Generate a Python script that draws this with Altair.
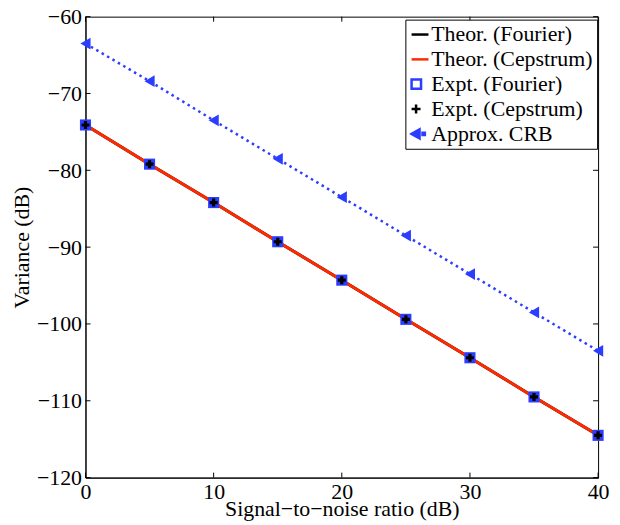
import altair as alt
import pandas as pd

# ---- data ----
snr = [0, 5, 10, 15, 20, 25, 30, 35, 40]
theor_fourier = [-74.1, -79.2, -84.2, -89.3, -94.3, -99.4, -104.4, -109.5, -114.5]
theor_cepstrum = [-74.1, -79.2, -84.2, -89.3, -94.3, -99.4, -104.4, -109.5, -114.5]
expt_fourier = [-74.1, -79.2, -84.2, -89.3, -94.3, -99.4, -104.4, -109.5, -114.5]
expt_cepstrum = [-74.1, -79.2, -84.2, -89.3, -94.3, -99.4, -104.4, -109.5, -114.5]
approx_crb = [-63.5, -68.4, -73.5, -78.5, -83.5, -88.5, -93.5, -98.5, -103.5]
series_names = ["Theor. (Fourier)", "Theor. (Cepstrum)", "Expt. (Fourier)",
                "Expt. (Cepstrum)", "Approx. CRB"]
x_ticks = [0, 10, 20, 30, 40]
y_ticks = [-120, -110, -100, -90, -80, -70, -60]

BLUE = "#2b3dff"
RED = "#ff2a00"
FONT = "Liberation Serif, DejaVu Serif, serif"
FS = 22

xs = alt.Scale(domain=[0, 40], nice=False, zero=False)
ys = alt.Scale(domain=[-120, -60], nice=False, zero=False)
AX = alt.Axis(values=x_ticks, title="Signal−to−noise ratio (dB)", labelFlush=False,
              tickSize=0, labelPadding=4, titlePadding=-4, grid=False)
AY = alt.Axis(values=y_ticks, title="Variance (dB)", labelFlush=False,
              tickSize=0, labelPadding=4, titlePadding=3, grid=False)

def X(f):
    return alt.X(f, scale=xs, axis=AX)

def Y(f):
    return alt.Y(f, scale=ys, axis=AY)

def df(vals):
    return pd.DataFrame({"snr": snr, "var": vals})

black_line = alt.Chart(df(theor_fourier)).mark_line(strokeWidth=3, color="black").encode(
    x=X("snr:Q"), y=Y("var:Q"))
red_line = alt.Chart(df(theor_cepstrum)).mark_line(strokeWidth=3, color=RED).encode(
    x=X("snr:Q"), y=Y("var:Q"))

crb_line = alt.Chart(df(approx_crb)).mark_line(
    strokeWidth=2.5, color=BLUE, strokeDash=[2.5, 3.8]).encode(x=X("snr:Q"), y=Y("var:Q"))
crb_pts = alt.Chart(df(approx_crb)).mark_point(
    shape="triangle-left", filled=True, size=140, color=BLUE, opacity=1).encode(
    x=X("snr:Q"), y=Y("var:Q"))

sq_pts = alt.Chart(df(expt_fourier)).mark_point(
    shape="square", filled=True, size=125, color=BLUE, opacity=1).encode(
    x=X("snr:Q"), y=Y("var:Q"))
plus_pts = alt.Chart(df(expt_cepstrum)).mark_point(
    shape="cross", filled=True, size=64, color="black", opacity=1).encode(
    x=X("snr:Q"), y=Y("var:Q"))

# inward ticks on all four sides (through the data scales)
TLY = 0.65  # tick length in y units (~5 px)
TLX = 0.39  # tick length in x units (~5 px)
xt = pd.DataFrame({"t": x_ticks})
yt = pd.DataFrame({"t": y_ticks})
tick_b = alt.Chart(xt).mark_rule(color="black", strokeWidth=1).encode(
    x=X("t:Q"), y=Y("a:Q"), y2="b:Q"
).transform_calculate(a="-120", b=f"-120+{TLY}")
tick_t = alt.Chart(xt).mark_rule(color="black", strokeWidth=1).encode(
    x=X("t:Q"), y=Y("a:Q"), y2="b:Q"
).transform_calculate(a="-60", b=f"-60-{TLY}")
tick_l = alt.Chart(yt).mark_rule(color="black", strokeWidth=1).encode(
    y=Y("t:Q"), x=X("a:Q"), x2="b:Q"
).transform_calculate(a="0", b=f"{TLX}")
tick_r = alt.Chart(yt).mark_rule(color="black", strokeWidth=1).encode(
    y=Y("t:Q"), x=X("a:Q"), x2="b:Q"
).transform_calculate(a="40", b=f"40-{TLX}")

# legend-only layer (points placed outside the domain and clipped)
legend_df = pd.DataFrame({"series": series_names, "snr": [-100] * 5, "var": [-90] * 5})
paths = [
    "M-1.59,0H1.5",
    "M-1.59,0H1.5",
    "M-1.59,-0.85H0.14V0.85H-1.59Z",
    "M-1.59,0H0.05M-0.77,-0.82V0.82",
    "M-1.59,0L-0.13,-0.82L-0.13,0.82Z M0.41,-0.2H0.84V0.2H0.41Z",
]
SYM = 121
leg = alt.Legend(title=None, orient="none", legendX=322, legendY=3, padding=4,
                 strokeColor="black", fillColor="white", cornerRadius=0,
                 labelFont=FONT, labelFontSize=FS, labelColor="black", labelLimit=400,
                 symbolSize=SYM, symbolStrokeWidth=2.5, labelOffset=0, rowPadding=3,
                 symbolOpacity=1)
legend_layer = alt.Chart(legend_df).mark_point(filled=True, clip=True, size=SYM,
                                               strokeWidth=2.5, opacity=1).encode(
    x=X("snr:Q"), y=Y("var:Q"),
    fill=alt.Fill("series:N", scale=alt.Scale(
        domain=series_names,
        range=["transparent", "transparent", "transparent", "transparent", BLUE]), legend=leg),
    stroke=alt.Stroke("series:N", scale=alt.Scale(
        domain=series_names, range=["black", RED, BLUE, "black", BLUE]), legend=leg),
    shape=alt.Shape("series:N", scale=alt.Scale(domain=series_names, range=paths), legend=leg),
)

chart = alt.layer(
    black_line, red_line, crb_line, crb_pts, sq_pts, plus_pts,
    tick_b, tick_t, tick_l, tick_r, legend_layer
).properties(
    width=516, height=464,
    autosize=alt.AutoSizeParams(type="none"),
    padding={"left": 78, "top": 7, "right": 14, "bottom": 45},
).configure_view(
    stroke="black", strokeWidth=1
).configure_axis(
    domainColor="black", domainWidth=1, tickSize=0, grid=False, labelFlush=False,
    labelFont=FONT, labelFontSize=FS, labelColor="black",
    titleFont=FONT, titleFontSize=FS, titleColor="black", titleFontWeight="normal",
).configure_legend(
    labelFont=FONT, labelFontSize=FS, labelColor="black", labelLimit=400,
    symbolSize=SYM, symbolStrokeWidth=2.5, labelOffset=0, rowPadding=3,
    padding=4, strokeColor="black", fillColor="white", cornerRadius=0,
)

chart.save("out.html", embed_options={"renderer": "svg", "actions": False})
